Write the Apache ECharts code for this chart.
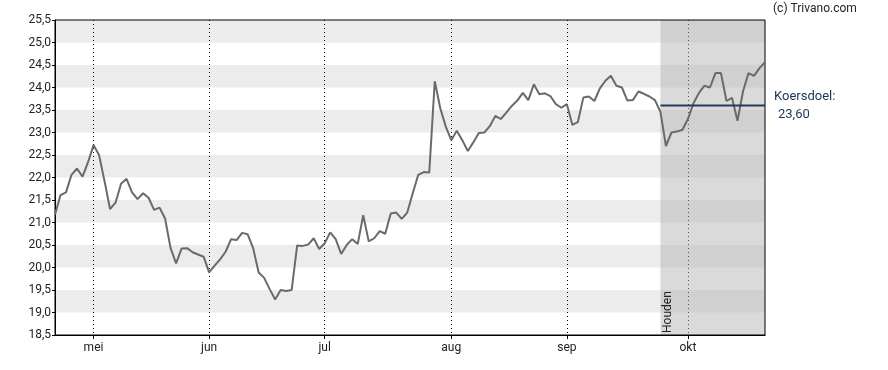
<!DOCTYPE html>
<html>
<head>
<meta charset="utf-8">
<script src="https://cdn.jsdelivr.net/npm/echarts@6/dist/echarts.min.js"></script>
<style>
html,body{margin:0;padding:0;background:#fff;}
#c{width:888px;height:370px;}
</style>
</head>
<body>
<div id="c"></div>
<script>
// Trading days (2025)
const dates = [
 '04-22','04-23','04-24','04-25','04-28','04-29','04-30',
 '05-02','05-05','05-06','05-07','05-08','05-09','05-12','05-13','05-14','05-15','05-16','05-19','05-20','05-21','05-22','05-23','05-26','05-27','05-28','05-29','05-30',
 '06-02','06-03','06-04','06-05','06-06','06-09','06-10','06-11','06-12','06-13','06-16','06-17','06-18','06-19','06-20','06-23','06-24','06-25','06-26','06-27','06-30',
 '07-01','07-02','07-03','07-04','07-07','07-08','07-09','07-10','07-11','07-14','07-15','07-16','07-17','07-18','07-21','07-22','07-23','07-24','07-25','07-28','07-29','07-30','07-31',
 '08-01','08-04','08-05','08-06','08-07','08-08','08-11','08-12','08-13','08-14','08-15','08-18','08-19','08-20','08-21','08-22','08-25','08-26','08-27','08-28','08-29',
 '09-01','09-02','09-03','09-04','09-05','09-08','09-09','09-10','09-11','09-12','09-15','09-16','09-17','09-18','09-19','09-22','09-23','09-24','09-25','09-26','09-29','09-30',
 '10-01','10-02','10-03','10-06','10-07','10-08','10-09','10-10','10-13','10-14','10-15','10-16','10-17','10-20','10-21'
];
const prices = [
 21.17,21.61,21.67,22.06,22.20,22.02,22.34,
 22.72,22.50,21.92,21.30,21.44,21.86,21.97,21.67,21.52,21.65,21.55,21.28,21.33,21.09,20.43,20.09,20.42,20.43,20.34,20.29,20.24,
 19.89,20.04,20.18,20.35,20.63,20.61,20.77,20.74,20.43,19.89,19.77,19.52,19.29,19.50,19.48,19.50,20.49,20.48,20.51,20.65,20.41,
 20.54,20.78,20.63,20.30,20.50,20.63,20.52,21.16,20.58,20.65,20.81,20.75,21.20,21.22,21.08,21.22,21.65,22.06,22.12,22.11,24.14,23.54,23.13,
 22.83,23.04,22.83,22.59,22.78,22.99,23.00,23.14,23.37,23.30,23.44,23.59,23.71,23.88,23.72,24.07,23.85,23.87,23.81,23.63,23.55,
 23.63,23.17,23.23,23.78,23.80,23.70,23.98,24.15,24.26,24.04,24.00,23.71,23.72,23.91,23.86,23.80,23.72,23.46,22.70,23.00,23.02,23.06,
 23.30,23.65,23.88,24.04,24.00,24.32,24.32,23.70,23.77,23.26,23.91,24.32,24.26,24.43,24.56
];
const monthNames = {'04':'apr','05':'mei','06':'jun','07':'jul','08':'aug','09':'sep','10':'okt'};
const adviceStart = '09-24';
const adviceLabel = 'Houden';
const targetPrice = 23.60;
const targetLabel = 'Koersdoel:';
const yMin = 18.5, yMax = 25.5, yStep = 0.5;

const startIdx = dates.indexOf(adviceStart);
const targetData = dates.map((d,i)=> i>=startIdx ? targetPrice : null);
function isMonthStart(i){ return i>0 && dates[i].slice(0,2)!==dates[i-1].slice(0,2); }

const chart = echarts.init(document.getElementById('c'), null, {renderer:'canvas'});
const FONT = 'Roboto';
chart.setOption({
  animation:false,
  backgroundColor:'#fff',
  grid:{left:55,right:123,top:20,bottom:35,show:true,borderColor:'#000',borderWidth:1,backgroundColor:'transparent',z:3},
  xAxis:{
    type:'category', data:dates, boundaryGap:false,
    axisLine:{lineStyle:{color:'#000',width:1}},
    axisTick:{show:true,length:4,interval:(i)=>isMonthStart(i),lineStyle:{color:'#000'}},
    axisLabel:{interval:(i)=>isMonthStart(i),formatter:(v)=>monthNames[v.slice(0,2)],color:'#222',fontFamily:FONT,fontSize:12,margin:7},
    splitLine:{show:true,interval:(i)=>isMonthStart(i),lineStyle:{color:'#000',type:[1,3],width:1}}
  },
  yAxis:{
    type:'value', min:yMin, max:yMax, interval:yStep,
    axisLine:{show:true,lineStyle:{color:'#000',width:1}},
    axisTick:{show:true,length:3,lineStyle:{color:'#000'}},
    axisLabel:{formatter:(v)=>v.toFixed(1).replace('.',','),color:'#222',fontFamily:FONT,fontSize:12,margin:4},
    splitLine:{show:false},
    splitArea:{show:true,areaStyle:{color:['#ffffff','#ececec']}}
  },
  series:[
    {
      type:'line', data:prices, symbol:'none', z:3,
      lineStyle:{color:'#6a6a6a',width:2},
      markArea:{silent:true,itemStyle:{color:'rgba(177,177,177,0.47)'},
        data:[[{xAxis:adviceStart},{xAxis:dates[dates.length-1]}]]}
    },
    {
      type:'line', data:targetData, symbol:'none', z:4,
      lineStyle:{color:'#1e3d5c',width:2}
    }
  ],
  graphic:[
    {type:'text',left:773,top:3,style:{text:'(c) Trivano.com',fill:'#222',font:'12px '+FONT}},
    {type:'text',left:774,top:90,style:{text:targetLabel,fill:'#1c3450',font:'13px '+FONT}},
    {type:'text',left:778,top:108,style:{text:targetPrice.toFixed(2).replace('.',','),fill:'#1c3450',font:'13px '+FONT}},
    {type:'text',x:668,y:333,rotation:Math.PI/2,style:{text:adviceLabel,fill:'#222',font:'12px '+FONT,align:'left',verticalAlign:'middle'},z:10}
  ]
});
</script>
</body>
</html>
